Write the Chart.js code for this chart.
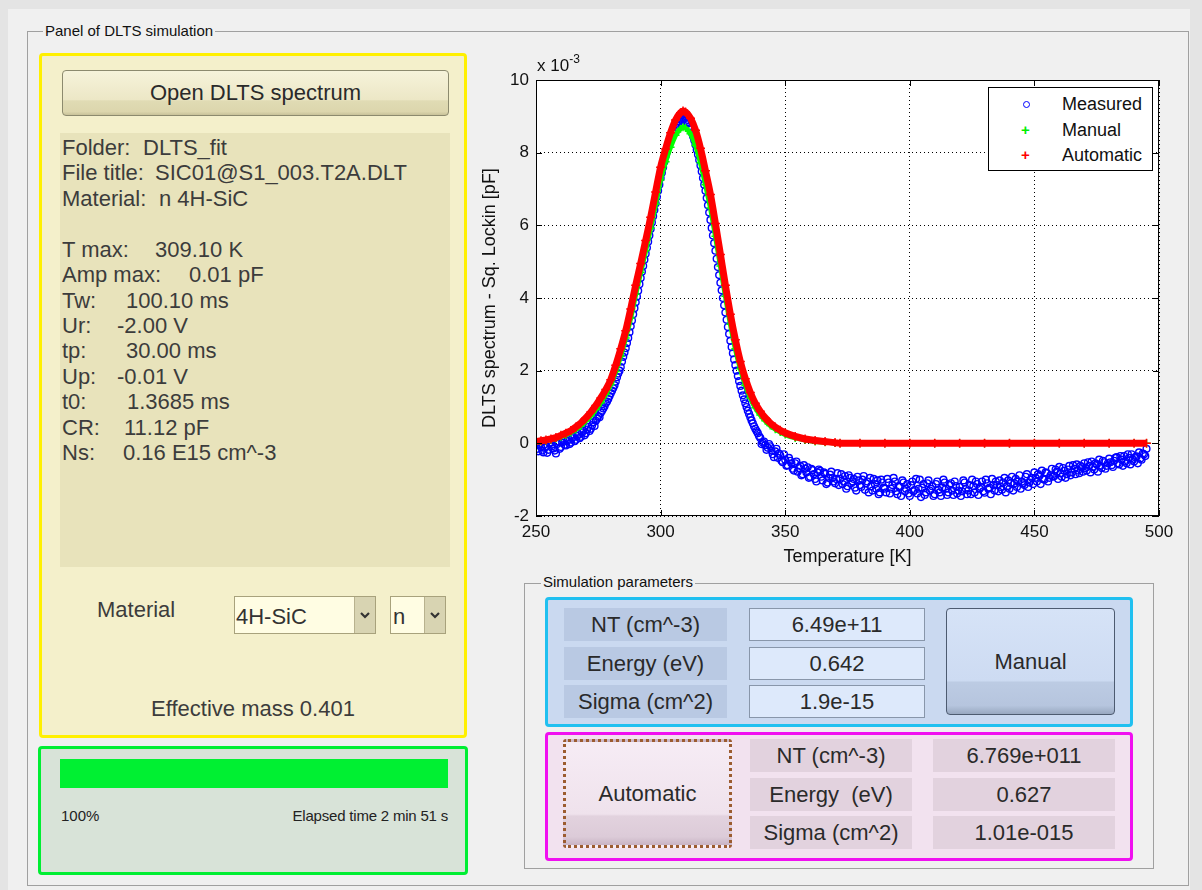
<!DOCTYPE html>
<html>
<head>
<meta charset="utf-8">
<title>Panel of DLTS simulation</title>
<script src="https://cdn.jsdelivr.net/npm/chart.js@4.4.0/dist/chart.umd.min.js"></script>
<style>
  body { margin: 0; width: 1202px; height: 890px; overflow: hidden; background: #e4e4e4;
         font-family: "Liberation Sans", Arial, sans-serif; color: #333; }
  .abs { position: absolute; box-sizing: border-box; }
  #fig { left: 8px; top: 9px; width: 1182px; height: 881px; background: #f0f0f0; }
  .frame { border: 1px solid #a0a0a0; }
  .frameTitle { position: absolute; background: #f0f0f0; font-size: 15px; color: #111; padding: 0 2px; line-height: 18px; }
  .big { font-size: 22px; }
  .cell { display: flex; align-items: center; justify-content: center; font-size: 22px; color: #2a2a2a; white-space: pre; }
  .info div { position: absolute; left: 2px; height: 25px; line-height: 25px; font-size: 22px; color: #3c3c3c; white-space: pre; }
  .info span { position: absolute; }
  .legendRow { position: absolute; left: 0; height: 24px; line-height: 24px; font-size: 18px; color: #111; }
</style>
</head>
<body>
<div id="fig" class="abs"></div>

<!-- outer panel -->
<div class="abs frame" style="left:27px;top:31px;width:1162px;height:855px;"></div>
<div class="frameTitle" style="left:43px;top:22px;">Panel of DLTS simulation</div>

<!-- yellow panel -->
<div class="abs" style="left:39px;top:53px;width:428px;height:685px;border:3px solid #fff000;border-radius:4px;background:#f4f0cb;"></div>
<div class="abs cell" style="left:62px;top:70px;width:387px;height:46px;border:1px solid #8c8a6e;border-radius:4px;
     background:linear-gradient(#f6f3da 0%, #ece7c6 65%, #e0dbb4 68%, #dcd6ad 92%, #c8c29a 100%);">Open DLTS spectrum</div>
<div class="abs info" style="left:60px;top:133px;width:390px;height:434px;background:#e8e3bb;">
  <div style="top:2px">Folder:<span style="left:81px">DLTS_fit</span></div>
  <div style="top:27px">File title:<span style="left:93px">SIC01@S1_003.T2A.DLT</span></div>
  <div style="top:53px">Material:<span style="left:97px">n 4H-SiC</span></div>
  <div style="top:104px">T max:<span style="left:93px">309.10 K</span></div>
  <div style="top:129px">Amp max:<span style="left:127px">0.01 pF</span></div>
  <div style="top:155px">Tw:<span style="left:64px">100.10 ms</span></div>
  <div style="top:180px">Ur:<span style="left:55px">-2.00 V</span></div>
  <div style="top:205px">tp:<span style="left:64px">30.00 ms</span></div>
  <div style="top:231px">Up:<span style="left:55px">-0.01 V</span></div>
  <div style="top:256px">t0:<span style="left:65px">1.3685 ms</span></div>
  <div style="top:282px">CR:<span style="left:62px">11.12 pF</span></div>
  <div style="top:307px">Ns:<span style="left:61px">0.16 E15 cm^-3</span></div>
</div>
<div class="abs big" style="left:97px;top:597px;line-height:26px;color:#3c3c3c;">Material</div>
<div class="abs" style="left:234px;top:596px;width:142px;height:38px;border:1px solid #a8a27c;background:#fffde3;">
  <div class="abs big" style="left:1px;top:7px;line-height:26px;color:#333;">4H-SiC</div>
  <div class="abs" style="right:0;top:0;width:21px;height:36px;background:#d8d4b2;border-left:1px solid #b8b28e;">
    <svg width="20" height="36"><polyline points="6,16 10,20 14,16" fill="none" stroke="#333" stroke-width="2.2"/></svg>
  </div>
</div>
<div class="abs" style="left:390px;top:596px;width:56px;height:38px;border:1px solid #a8a27c;background:#fffde3;">
  <div class="abs big" style="left:2px;top:7px;line-height:26px;color:#333;">n</div>
  <div class="abs" style="right:0;top:0;width:21px;height:36px;background:#d8d4b2;border-left:1px solid #b8b28e;">
    <svg width="20" height="36"><polyline points="6,16 10,20 14,16" fill="none" stroke="#333" stroke-width="2.2"/></svg>
  </div>
</div>
<div class="abs big" style="left:39px;top:696px;width:428px;text-align:center;line-height:26px;color:#3c3c3c;">Effective mass 0.401</div>

<!-- green panel -->
<div class="abs" style="left:38px;top:746px;width:430px;height:129px;border:3px solid #00ee33;border-radius:4px;background:#d8e3d8;"></div>
<div class="abs" style="left:60px;top:759px;width:388px;height:29px;background:#00f032;"></div>
<div class="abs" style="left:61px;top:807px;font-size:15px;line-height:18px;color:#222;">100%</div>
<div class="abs" style="left:248px;top:807px;width:200px;text-align:right;font-size:15px;line-height:18px;color:#222;letter-spacing:-0.2px;">Elapsed time 2 min 51 s</div>

<!-- chart -->
<canvas id="dltsChart" class="abs" width="710" height="540" style="left:470px;top:40px;width:710px;height:540px;"></canvas>
<div class="abs" style="left:537px;top:56px;font-size:17px;line-height:20px;color:#111;">x 10<span style="position:relative;top:-8px;font-size:12px;">-3</span></div>
<div class="abs" style="left:988px;top:87px;width:165px;height:84px;border:1px solid #000;background:#fff;">
  <div class="legendRow" style="top:4px;"><span class="abs" style="left:34px;top:9px;width:7px;height:7px;border:1.5px solid #0000ff;border-radius:50%;"></span><span class="abs" style="left:73px;">Measured</span></div>
  <div class="legendRow" style="top:30px;"><span class="abs" style="left:32px;top:0;color:#00ee00;font-size:15px;font-weight:bold;">+</span><span class="abs" style="left:73px;">Manual</span></div>
  <div class="legendRow" style="top:55px;"><span class="abs" style="left:32px;top:0;color:#ff0000;font-size:15px;font-weight:bold;">+</span><span class="abs" style="left:73px;">Automatic</span></div>
</div>

<!-- simulation parameters -->
<div class="abs frame" style="left:524px;top:583px;width:630px;height:286px;"></div>
<div class="frameTitle" style="left:541px;top:573px;">Simulation parameters</div>

<div class="abs" style="left:545px;top:597px;width:588px;height:130px;border:3px solid #20c0f0;border-radius:4px;background:#cad9f0;"></div>
<div class="abs cell" style="left:564px;top:608px;width:163px;height:33px;background:#b9c9e3;">NT (cm^-3)</div>
<div class="abs cell" style="left:564px;top:647px;width:163px;height:33px;background:#b9c9e3;">Energy (eV)</div>
<div class="abs cell" style="left:564px;top:685px;width:163px;height:33px;background:#b9c9e3;">Sigma (cm^2)</div>
<div class="abs cell" style="left:749px;top:608px;width:176px;height:33px;background:#dde9fb;border:1px solid #8896aa;">6.49e+11</div>
<div class="abs cell" style="left:749px;top:647px;width:176px;height:33px;background:#dde9fb;border:1px solid #8896aa;">0.642</div>
<div class="abs cell" style="left:749px;top:685px;width:176px;height:33px;background:#dde9fb;border:1px solid #8896aa;">1.9e-15</div>
<div class="abs cell" style="left:946px;top:608px;width:169px;height:107px;border:1px solid #4d5b70;border-radius:4px;
     background:linear-gradient(#d6e3f7 0%, #cddbf2 68%, #bccbe3 70%, #b6c5de 92%, #98a8c0 100%);">Manual</div>

<div class="abs" style="left:545px;top:732px;width:588px;height:129px;border:3px solid #f010f0;border-radius:4px;background:#f2e2ef;"></div>
<div class="abs cell" style="left:563px;top:739px;width:169px;height:109px;border:3px dotted #9c5c30;border-radius:3px;
     background:linear-gradient(#f6ecf5 0%, #efe2ec 70%, #e2d2de 72%, #dccbd8 92%, #c8b4c4 100%);">Automatic</div>
<div class="abs cell" style="left:750px;top:739px;width:162px;height:33px;background:#e2d2de;">NT (cm^-3)</div>
<div class="abs cell" style="left:750px;top:778px;width:162px;height:33px;background:#e2d2de;">Energy  (eV)</div>
<div class="abs cell" style="left:750px;top:816px;width:162px;height:33px;background:#e2d2de;">Sigma (cm^2)</div>
<div class="abs cell" style="left:933px;top:739px;width:182px;height:33px;background:#e2d2de;">6.769e+011</div>
<div class="abs cell" style="left:933px;top:778px;width:182px;height:33px;background:#e2d2de;">0.627</div>
<div class="abs cell" style="left:933px;top:816px;width:182px;height:33px;background:#e2d2de;">1.01e-015</div>

<script>
// DLTS signal in units of 1e-3 pF (axis shows "x 10^-3")
// measured spectrum: samples at whole kelvins from 250 K ...
const measuredStartK = 250;
const measuredSignal = [
  -0.05, -0.22, -0.10, -0.25, -0.08, -0.18, 0.02, -0.14, -0.28, 0.05,
  -0.10, 0.08, -0.06, 0.12, 0.02, 0.18, 0.10, 0.26, 0.18, 0.35,
  0.28, 0.45, 0.40, 0.58, 0.62, 0.75, 0.84, 0.96, 1.10, 1.22,
  1.38, 1.52, 1.70, 1.92, 2.10, 2.38, 2.62, 2.90, 3.22, 3.55,
  3.88, 4.20, 4.55, 4.88, 5.22, 5.55, 5.90, 6.25, 6.60, 6.95,
  7.30, 7.60, 7.90, 8.15, 8.38, 8.55, 8.70, 8.82, 8.90, 8.95,
  8.88, 8.80, 8.65, 8.45, 8.22, 7.95, 7.65, 7.30, 6.95, 6.55,
  6.15, 5.72, 5.30, 4.85, 4.42, 4.00, 3.60, 3.20, 2.82, 2.48,
  2.15, 1.85, 1.58, 1.32, 1.10, 0.90, 0.72, 0.55, 0.40, 0.28,
  0.15, 0.02, -0.05, -0.12, -0.08, -0.30, -0.22, -0.40, -0.33, -0.52,
  -0.45, -0.60, -0.48, -0.70, -0.55, -0.78, -0.62, -0.85, -0.70, -0.66,
  -0.92, -0.74, -0.98, -0.80, -0.76, -1.02, -0.84, -1.08, -0.86, -0.95,
  -1.10, -0.82, -0.98, -1.12, -0.90, -1.18, -0.95, -1.05, -1.22, -0.92,
  -1.15, -1.00, -1.28, -1.05, -0.95, -1.30, -1.12, -1.02, -1.35, -1.08,
  -1.25, -0.98, -1.38, -1.15, -1.05, -1.40, -1.20, -1.02, -1.32, -1.12,
  -1.45, -1.05, -1.28, -1.38, -1.00, -1.22, -1.42, -1.10, -1.30, -1.18,
  -1.40, -1.05, -1.35, -1.22, -1.08, -1.42, -1.15, -1.30, -1.05, -1.38,
  -1.20, -1.32, -1.08, -1.40, -1.15, -1.00, -1.35, -1.12, -1.25, -1.05,
  -1.36, -1.10, -1.22, -0.98, -1.30, -1.15, -1.02, -1.28, -0.95, -1.18,
  -1.25, -0.92, -1.10, -1.20, -0.88, -1.05, -1.15, -0.85, -1.08, -0.95,
  -0.80, -1.05, -0.90, -0.75, -1.00, -0.82, -0.95, -0.70, -0.90, -0.78,
  -0.65, -0.92, -0.75, -0.85, -0.62, -0.80, -0.70, -0.58, -0.82, -0.66,
  -0.55, -0.75, -0.62, -0.50, -0.72, -0.58, -0.45, -0.68, -0.52, -0.62,
  -0.42, -0.60, -0.48, -0.38, -0.58, -0.45, -0.35, -0.55, -0.40, -0.30,
  -0.50, -0.36, -0.25, -0.45, -0.30, -0.15
];
// ... and the samples in between, at 250.5 K, 251.5 K, ...
const measuredSignalMid = [
  -0.15, -0.02, -0.20, -0.12, -0.26, 0.00, -0.08, -0.20, -0.02, -0.15,
  0.02, -0.04, 0.06, -0.02, 0.14, 0.06, 0.20, 0.14, 0.30, 0.22,
  0.38, 0.34, 0.50, 0.48, 0.68, 0.72, 0.90, 1.02, 1.15, 1.30,
  1.45, 1.60, 1.82, 2.00, 2.25, 2.50, 2.76, 3.06, 3.38, 3.72,
  4.04, 4.38, 4.72, 5.05, 5.38, 5.72, 6.08, 6.42, 6.78, 7.12,
  7.45, 7.75, 8.02, 8.28, 8.47, 8.62, 8.76, 8.86, 8.93, 8.92,
  8.84, 8.72, 8.55, 8.34, 8.08, 7.80, 7.48, 7.12, 6.75, 6.35,
  5.93, 5.51, 5.08, 4.63, 4.21, 3.80, 3.40, 3.01, 2.65, 2.31,
  2.00, 1.71, 1.45, 1.21, 1.00, 0.81, 0.63, 0.47, 0.34, 0.20,
  -0.02, 0.05, -0.18, -0.02, -0.20, -0.38, -0.15, -0.28, -0.48, -0.30,
  -0.62, -0.40, -0.55, -0.75, -0.50, -0.68, -0.88, -0.60, -0.80, -0.95,
  -0.70, -0.85, -1.05, -0.72, -0.92, -0.80, -1.12, -0.95, -0.78, -1.05,
  -0.98, -1.15, -0.85, -1.05, -1.25, -0.88, -1.10, -0.98, -1.30, -1.02,
  -1.20, -0.90, -1.10, -1.35, -1.18, -0.98, -1.25, -1.40, -1.00, -1.22,
  -1.35, -1.08, -1.25, -0.95, -1.32, -1.18, -1.45, -1.08, -1.25, -1.38,
  -1.15, -1.32, -0.98, -1.25, -1.48, -1.12, -1.35, -1.02, -1.25, -1.45,
  -1.12, -1.28, -1.45, -1.00, -1.25, -1.35, -1.10, -1.42, -1.18, -1.30,
  -1.45, -1.02, -1.25, -1.30, -1.40, -1.18, -1.05, -1.42, -1.20, -1.32,
  -1.00, -1.25, -1.40, -1.15, -1.05, -1.32, -1.20, -1.08, -1.35, -1.02,
  -1.10, -1.30, -0.98, -1.05, -1.25, -1.10, -0.92, -1.20, -1.00, -1.12,
  -0.95, -0.85, -1.12, -0.98, -0.80, -1.05, -0.88, -0.92, -0.72, -0.98,
  -0.82, -0.68, -0.95, -0.72, -0.88, -0.60, -0.85, -0.75, -0.62, -0.78,
  -0.68, -0.52, -0.80, -0.65, -0.55, -0.78, -0.62, -0.48, -0.70, -0.55,
  -0.52, -0.65, -0.40, -0.55, -0.35, -0.62, -0.50, -0.30, -0.58, -0.45,
  -0.38, -0.55, -0.42, -0.28, -0.35
];

// simulated spectra
const fitTemps = [
  250, 252, 254, 256, 258, 260, 262, 264, 266, 268, 270, 272, 274, 276, 278,
  280, 282, 284, 286, 288, 290, 292, 294, 296, 298, 300, 302, 304, 306, 308,
  309, 310, 312, 314, 316, 318, 320, 322, 324, 326, 328, 330, 332, 334, 336,
  338, 340, 342, 344, 346, 348, 350, 354, 358, 362, 366, 370, 372, 380, 390,
  400, 410, 420, 430, 440, 450, 460, 470, 480, 490, 495
];
const manualFit = [
  0.03, 0.05, 0.07, 0.10, 0.13, 0.18, 0.23, 0.30, 0.38, 0.48, 0.62, 0.76, 0.93, 1.12, 1.35,
  1.62, 1.98, 2.40, 2.90, 3.45, 4.10, 4.70, 5.30, 5.92, 6.58, 7.25, 7.75, 8.15, 8.48, 8.66,
  8.70, 8.68, 8.52, 8.20, 7.72, 7.12, 6.48, 5.70, 4.88, 4.05, 3.28, 2.60, 2.05, 1.60, 1.25,
  0.98, 0.78, 0.62, 0.49, 0.39, 0.31, 0.24, 0.15, 0.09, 0.05, 0.03, 0.01, 0, 0, 0,
  0, 0, 0, 0, 0, 0, 0, 0, 0, 0, 0
];
const automaticFit = [
  0.05, 0.07, 0.09, 0.12, 0.16, 0.22, 0.28, 0.35, 0.45, 0.56, 0.70, 0.86, 1.04, 1.25, 1.48,
  1.75, 2.15, 2.60, 3.10, 3.70, 4.35, 4.95, 5.58, 6.22, 6.92, 7.60, 8.10, 8.55, 8.90, 9.10,
  9.15, 9.12, 8.95, 8.62, 8.12, 7.50, 6.85, 6.05, 5.20, 4.35, 3.55, 2.85, 2.25, 1.78, 1.40,
  1.10, 0.88, 0.70, 0.56, 0.45, 0.36, 0.29, 0.19, 0.12, 0.08, 0.05, 0.02, 0, 0, 0,
  0, 0, 0, 0, 0, 0, 0, 0, 0, 0, 0
];

const xTicks = [250, 300, 350, 400, 450, 500];
const yTicks = [-2, 0, 2, 4, 6, 8, 10];

const toPoints = (xs, ys) => ys.map((y, i) => ({ x: xs[i], y: y }));
const measuredPoints = measuredSignal
  .map((y, i) => ({ x: measuredStartK + i, y: y }))
  .concat(measuredSignalMid.map((y, i) => ({ x: measuredStartK + 0.5 + i, y: y })));

// white axes area, black box and inner tick marks like the original plot
const axesBox = {
  id: "axesBox",
  beforeDraw(chart) {
    const { ctx, chartArea: a } = chart;
    ctx.save();
    ctx.fillStyle = "#fff";
    ctx.fillRect(a.left, a.top, a.right - a.left, a.bottom - a.top);
    ctx.restore();
  },
  afterDraw(chart) {
    const { ctx, chartArea: a, scales } = chart;
    ctx.save();
    ctx.strokeStyle = "#000";
    ctx.lineWidth = 1;
    ctx.strokeRect(a.left + 0.5, a.top + 0.5, a.right - a.left - 1, a.bottom - a.top - 1);
    ctx.beginPath();
    xTicks.forEach((v) => {
      const px = Math.round(scales.x.getPixelForValue(v)) + 0.5;
      ctx.moveTo(px, a.bottom); ctx.lineTo(px, a.bottom - 6);
      ctx.moveTo(px, a.top); ctx.lineTo(px, a.top + 6);
    });
    yTicks.forEach((v) => {
      const py = Math.round(scales.y.getPixelForValue(v)) + 0.5;
      ctx.moveTo(a.left, py); ctx.lineTo(a.left + 6, py);
      ctx.moveTo(a.right, py); ctx.lineTo(a.right - 6, py);
    });
    ctx.stroke();
    ctx.restore();
  },
};

const font = "'Liberation Sans', Arial, sans-serif";

new Chart(document.getElementById("dltsChart"), {
  type: "scatter",
  data: {
    datasets: [
      {
        label: "Automatic",
        data: toPoints(fitTemps, automaticFit),
        showLine: true,
        cubicInterpolationMode: "monotone",
        borderColor: "#ff0000",
        borderWidth: 7,
        pointStyle: "cross",
        pointRadius: 4.5,
        pointBorderWidth: 1.5,
        order: 0,
      },
      {
        label: "Manual",
        data: toPoints(fitTemps, manualFit),
        showLine: true,
        cubicInterpolationMode: "monotone",
        borderColor: "#00ff00",
        borderWidth: 5,
        pointStyle: "cross",
        pointRadius: 4,
        pointBorderWidth: 1.5,
        order: 1,
      },
      {
        label: "Measured",
        data: measuredPoints,
        pointStyle: "circle",
        pointRadius: 3.4,
        pointBorderWidth: 1.4,
        borderColor: "#0000ff",
        backgroundColor: "rgba(0,0,0,0)",
        order: 2,
      },
    ],
  },
  options: {
    responsive: false,
    animation: false,
    events: [],
    layout: { padding: { top: 40, right: 21, left: 0, bottom: 0 } },
    plugins: { legend: { display: false }, tooltip: { enabled: false } },
    scales: {
      x: {
        type: "linear",
        min: 250,
        max: 500,
        afterBuildTicks: (s) => { s.ticks = xTicks.map((v) => ({ value: v })); },
        afterFit: (s) => { s.height = 64; },
        grid: { color: "#000", lineWidth: 1, drawTicks: false },
        border: { display: false, dash: [1, 3] },
        ticks: { color: "#111", padding: 6, font: { family: font, size: 17 } },
        title: {
          display: true,
          text: "Temperature [K]",
          color: "#111",
          font: { family: font, size: 18 },
          padding: { top: 0, bottom: 12 },
        },
      },
      y: {
        type: "linear",
        min: -2,
        max: 10,
        afterBuildTicks: (s) => { s.ticks = yTicks.map((v) => ({ value: v })); },
        afterFit: (s) => { s.width = 66; },
        grid: { color: "#000", lineWidth: 1, drawTicks: false },
        border: { display: false, dash: [1, 3] },
        ticks: { color: "#111", padding: 7, font: { family: font, size: 17 } },
        title: {
          display: true,
          text: "DLTS spectrum - Sq. Lockin [pF]",
          color: "#111",
          font: { family: font, size: 18 },
          padding: { top: 9, bottom: 0 },
        },
      },
    },
  },
  plugins: [axesBox],
});
</script>
</body>
</html>
